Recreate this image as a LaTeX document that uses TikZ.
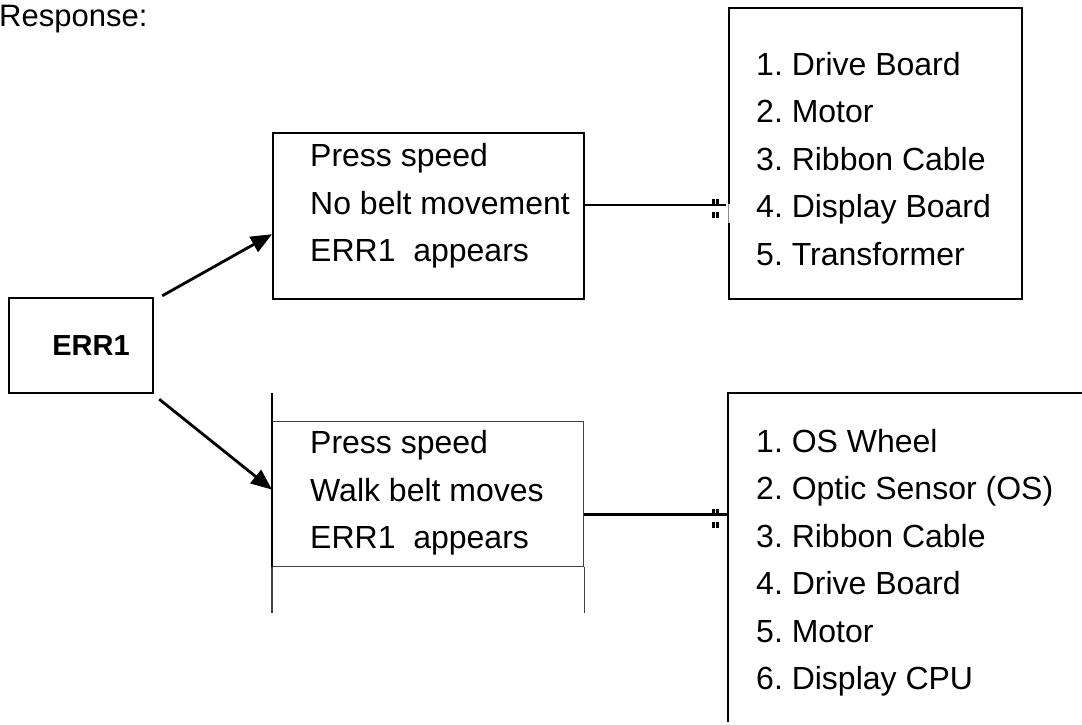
\documentclass[tikz,border=0pt]{standalone}
\usepackage{fontspec}
\setmainfont{Liberation Sans}
\usetikzlibrary{arrows.meta,calc}
\frenchspacing

% small double marks beside a junction
\newcommand{\tickmarks}[1]{%
    \foreach \dx in {-16,-12} {
        \fill (#1) ++(\dx,-6) rectangle ++(2.5,5);
        \fill (#1) ++(\dx,7) rectangle ++(2.5,6);
    }%
}

\begin{document}
\begin{tikzpicture}[
    x=1pt, y=-1pt,
    % Box styles
    box/.style={draw, line width=2.4pt, inner sep=0pt},
    thinbox/.style={draw=black!75, line width=1.2pt, inner sep=0pt},
    ghost/.style={inner sep=0pt},
    list/.style={align=left, inner sep=0pt, anchor=west,
        font=\fontsize{32}{47.5}\selectfont},
    arrow/.style={-{Triangle[length=21pt,width=17pt]}, line width=2.8pt},
    link/.style={line width=2.4pt},
    edge/.style={line width=2.4pt},
    thinedge/.style={draw=black!75, line width=1.2pt},
]
    \useasboundingbox (0,0) rectangle (1082,725);

    % Heading
    \node[anchor=base west, inner sep=0pt, font=\fontsize{31}{37}\selectfont]
        (resp) at (-1,27) {Response:};

    % Error box
    \node[box, minimum width=144pt, minimum height=95pt,
        font=\bfseries\fontsize{29}{34}\selectfont]
        (err) at (81,345.5) {\hspace*{20pt}\raisebox{-4.5pt}{ERR1}};

    % Symptom boxes
    \node[box, minimum width=311pt, minimum height=166pt, anchor=north west]
        (symp1) at (272,132) {};
    \node[list] (symp1txt) at (310,206) {Press speed\\No belt movement\\ERR1\ \ appears};

    \node[thinbox, minimum width=311pt, minimum height=145pt, anchor=north west]
        (symp2) at (272,421) {};
    \node[list] (symp2txt) at (310,493) {Press speed\\Walk belt moves\\ERR1\ \ appears};

    % Extra edges of the lower symptom box
    \draw[edge] ([yshift=28pt]symp2.north west) -- (symp2.south west);
    \draw[thinedge] (symp2.south west) -- ++(0,46);
    \draw[thinedge] (symp2.south east) -- ++(0,46);

    % Part lists
    \node[box, minimum width=293pt, minimum height=291pt, anchor=north west]
        (parts1) at (728,7) {};
    \node[list] (parts1txt) at (756,159) {1. Drive Board\\2. Motor\\3. Ribbon Cable\\4. Display Board\\5. Transformer};

    \node[ghost, minimum width=354pt, minimum height=329pt, anchor=north west]
        (parts2) at (728,393) {};
    \draw[edge] (parts2.south west) -- (parts2.north west) -- (parts2.north east);
    \node[list] (parts2txt) at (756,562.5) {1. OS Wheel\\2. Optic Sensor (OS)\\3. Ribbon Cable\\4. Drive Board\\5. Motor\\6. Display CPU};

    % Arrows from the error box
    \draw[arrow] ([xshift=8pt,yshift=1pt]err.north east) -- ([yshift=-18pt]symp1.west);
    \draw[arrow] ([xshift=5pt,yshift=-5pt]err.south east) -- ([yshift=4.5pt]symp2.west);

    % Connectors to the part lists
    \coordinate (j1) at ([yshift=11pt]symp1.east);
    \coordinate (j2) at ([yshift=-20.5pt]symp2.east);
    \draw[link] (j1) -- (j1 -| parts1.west) coordinate (k1);
    \draw[link] (j2) -- (j2 -| parts2.west) coordinate (k2);

    % Gap in the upper list's edge
    \draw[white, line width=3.2pt] ([yshift=1.5pt]k1) -- ++(0,19);
    \draw[black!45, line width=0.5pt] ([yshift=1.5pt]k1) -- ++(0,19);

    \tickmarks{k1}
    \tickmarks{k2}

\end{tikzpicture}
\end{document}
